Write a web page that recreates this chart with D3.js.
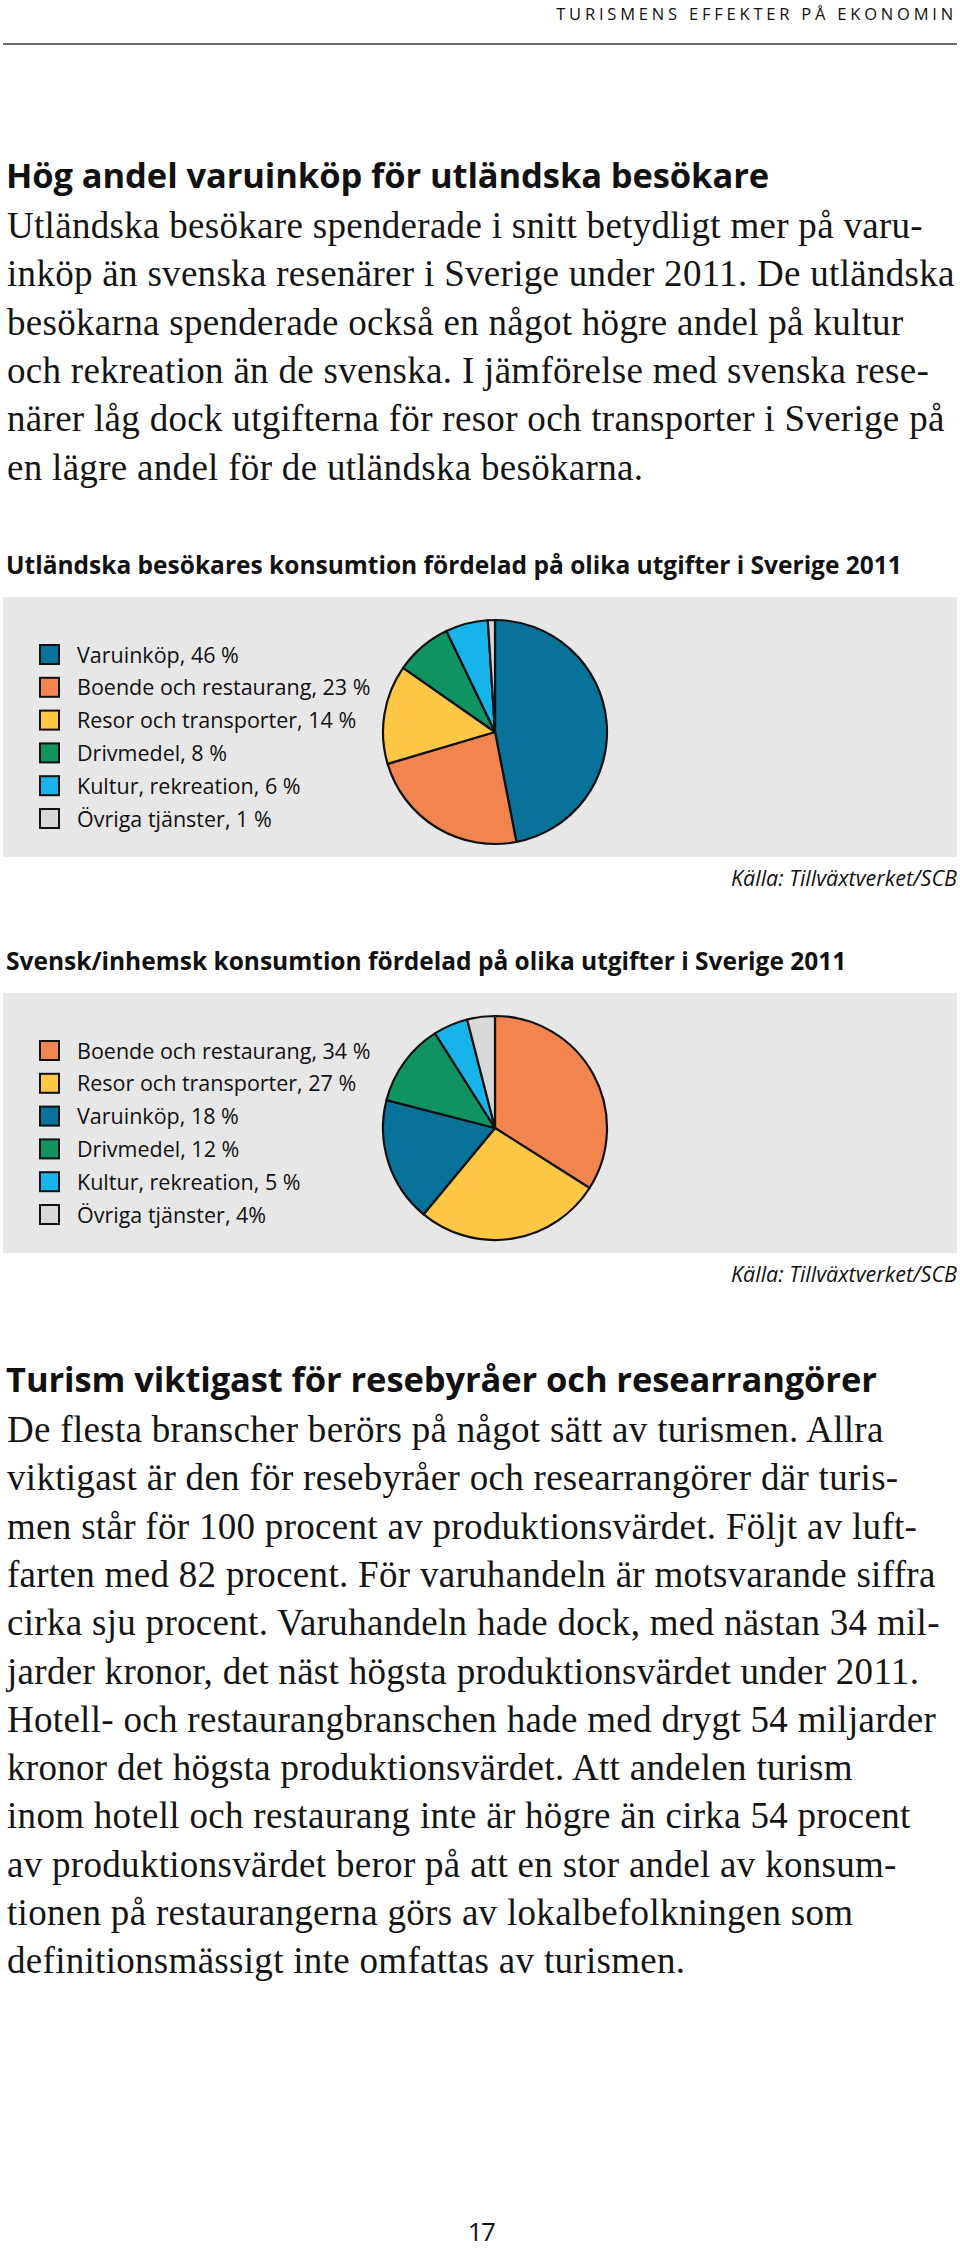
<!DOCTYPE html>
<html><head><meta charset="utf-8">
<script src="https://cdn.jsdelivr.net/npm/d3@7"></script>
<style>body{margin:0;background:#fff}svg{display:block}</style>
</head><body>
<script>
// ---------- data ----------
const headerText = "TURISMENS EFFEKTER PÅ EKONOMIN";
const heading1 = "Hög andel varuinköp för utländska besökare";
const para1 = [
  "Utländska besökare spenderade i snitt betydligt mer på varu-",
  "inköp än svenska resenärer i Sverige under 2011. De utländska",
  "besökarna spenderade också en något högre andel på kultur",
  "och rekreation än de svenska. I jämförelse med svenska rese-",
  "närer låg dock utgifterna för resor och transporter i Sverige på",
  "en lägre andel för de utländska besökarna."
];
const chart1Title = "Utländska besökares konsumtion fördelad på olika utgifter i Sverige 2011";
const chart1Categories = ["Varuinköp","Boende och restaurang","Resor och transporter","Drivmedel","Kultur, rekreation","Övriga tjänster"];
const chart1Values = [46,23,14,8,6,1];
const chart1Labels = ["Varuinköp, 46 %","Boende och restaurang, 23 %","Resor och transporter, 14 %","Drivmedel, 8 %","Kultur, rekreation, 6 %","Övriga tjänster, 1 %"];

const chart2Title = "Svensk/inhemsk konsumtion fördelad på olika utgifter i Sverige 2011";
const chart2Categories = ["Boende och restaurang","Resor och transporter","Varuinköp","Drivmedel","Kultur, rekreation","Övriga tjänster"];
const chart2Values = [34,27,18,12,5,4];
const chart2Labels = ["Boende och restaurang, 34 %","Resor och transporter, 27 %","Varuinköp, 18 %","Drivmedel, 12 %","Kultur, rekreation, 5 %","Övriga tjänster, 4%"];

const sourceText = "Källa: Tillväxtverket/SCB";
const heading2 = "Turism viktigast för resebyråer och researrangörer";
const para2 = [
  "De flesta branscher berörs på något sätt av turismen. Allra",
  "viktigast är den för resebyråer och researrangörer där turis-",
  "men står för 100 procent av produktionsvärdet. Följt av luft-",
  "farten med 82 procent. För varuhandeln är motsvarande siffra",
  "cirka sju procent. Varuhandeln hade dock, med nästan 34 mil-",
  "jarder kronor, det näst högsta produktionsvärdet under 2011.",
  "Hotell- och restaurangbranschen hade med drygt 54 miljarder",
  "kronor det högsta produktionsvärdet. Att andelen turism",
  "inom hotell och restaurang inte är högre än cirka 54 procent",
  "av produktionsvärdet beror på att en stor andel av konsum-",
  "tionen på restaurangerna görs av lokalbefolkningen som",
  "definitionsmässigt inte omfattas av turismen."
];
const pageNumber = "17";

// ---------- drawing ----------
const W = 960, H = 2248;
const sans = "'Open Sans', sans-serif";
const serif = "'Liberation Serif', serif";
const svg = d3.select("body").append("svg").attr("width", W).attr("height", H);
svg.append("rect").attr("width", W).attr("height", H).attr("fill", "#fff");

// running header
svg.append("text").attr("x", 957).attr("y", 20).attr("text-anchor", "end")
  .attr("font-family", sans).attr("font-size", 16.5).attr("letter-spacing", 3.8)
  .attr("fill", "#111").text(headerText);
svg.append("line").attr("x1", 3).attr("x2", 957).attr("y1", 44).attr("y2", 44)
  .attr("stroke", "#6a6a6a").attr("stroke-width", 2);

function heading(txt, y) {
  svg.append("text").attr("x", 6).attr("y", y).attr("font-family", sans)
    .attr("font-weight", 700).attr("font-size", 34.5).attr("fill", "#111")
    .attr("letter-spacing", -0.1).text(txt);
}
function paragraph(lines, y0) {
  svg.append("g").selectAll("text").data(lines).join("text")
    .attr("x", 7).attr("y", (d, i) => y0 + i * 48.3)
    .attr("font-family", serif).attr("font-size", 37).attr("fill", "#141414")
    .attr("letter-spacing", 0.3).text(d => d);
}

const color = d3.scaleOrdinal()
  .domain(["Varuinköp","Boende och restaurang","Resor och transporter","Drivmedel","Kultur, rekreation","Övriga tjänster"])
  .range(["#08729a","#f2854f","#fec745","#0f9461","#16b4ea","#d8d8d8"]);

function pieChart(top, title, cats, vals, labels) {
  svg.append("text").attr("x", 6).attr("y", top - 23).attr("font-family", sans)
    .attr("font-weight", 700).attr("font-size", 24.5)
    .attr("fill", "#111").text(title);
  svg.append("rect").attr("x", 3).attr("y", top).attr("width", 954).attr("height", 260)
    .attr("fill", "#e7e7e7");

  const data = cats.map((c, i) => ({ c, v: vals[i] }));
  const pie = d3.pie().sort(null).value(d => d.v);
  const arc = d3.arc().innerRadius(0).outerRadius(112);
  const g = svg.append("g").attr("transform", `translate(495,${top + 135})`);
  g.selectAll("path").data(pie(data)).join("path")
    .attr("d", arc).attr("fill", d => color(d.data.c))
    .attr("stroke", "#111").attr("stroke-width", 2.2).attr("stroke-linejoin", "round");

  const y = d3.scalePoint().domain(d3.range(labels.length)).range([top + 58, top + 222]);
  const lg = svg.append("g");
  lg.selectAll("rect").data(cats).join("rect")
    .attr("x", 40).attr("y", (d, i) => y(i) - 10).attr("width", 19).attr("height", 19)
    .attr("fill", d => color(d)).attr("stroke", "#111").attr("stroke-width", 2);
  lg.selectAll("text").data(labels).join("text")
    .attr("x", 77).attr("y", (d, i) => y(i) + 7.5)
    .attr("font-family", sans).attr("font-size", 21.5).attr("fill", "#111")
    .text(d => d);

  svg.append("text").attr("x", 957).attr("y", top + 289).attr("text-anchor", "end")
    .attr("font-family", sans).attr("font-style", "italic").attr("font-size", 21.5)
    .attr("fill", "#111").text(sourceText);
}

heading(heading1, 188);
paragraph(para1, 238);
pieChart(597, chart1Title, chart1Categories, chart1Values, chart1Labels);
pieChart(993, chart2Title, chart2Categories, chart2Values, chart2Labels);
heading(heading2, 1392);
paragraph(para2, 1442);

svg.append("text").attr("x", 481).attr("y", 2241).attr("text-anchor", "middle")
  .attr("font-family", sans).attr("font-size", 26).attr("letter-spacing", -1.5)
  .attr("fill", "#111").text(pageNumber);
</script>
</body></html>
